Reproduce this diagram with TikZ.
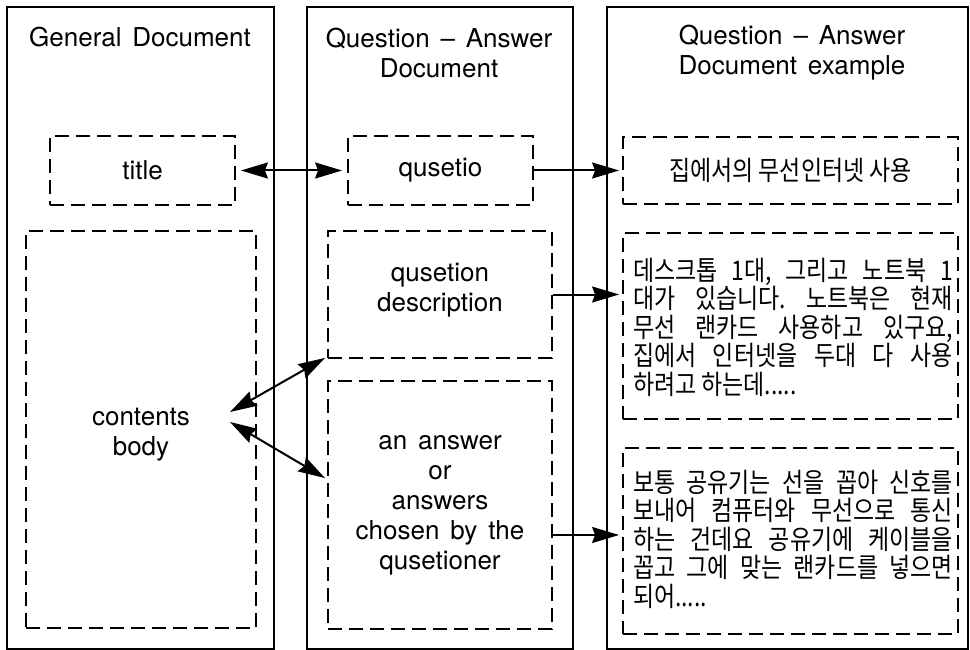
\documentclass[tikz,border=0pt]{standalone}
\usepackage{fontspec}
\setmainfont{TeX Gyre Heros}[WordSpace=1.5]
\newfontfamily\kr{Noto Sans CJK KR}[FakeStretch=0.85]
\usetikzlibrary{arrows.meta,calc}
\frenchspacing
\begin{document}
\begin{tikzpicture}[x=1pt,y=-1pt,
  outer/.style={draw, line width=2pt, inner sep=0pt},
  dbox/.style={draw, dash pattern=on 14pt off 7pt, line width=1.8pt, inner sep=0pt},
  lbl/.style={font=\fontsize{26}{30}\selectfont, align=center},
  krt/.style={font=\kr\fontsize{27}{28.5}\selectfont\frenchspacing},
  arr/.style={line width=2pt, -{Stealth[length=27pt,width=16pt,inset=3pt]}},
  darr/.style={line width=2pt, {Stealth[length=27pt,width=16pt,inset=3pt]}-{Stealth[length=27pt,width=16pt,inset=3pt]}}
]
\useasboundingbox (0,0) rectangle (970,650);
% columns
\node[outer, minimum width=267, minimum height=642, anchor=north west] (col1) at (6,6) {};
\node[outer, minimum width=266, minimum height=642, anchor=north west] (col2) at (306,6) {};
\node[outer, minimum width=361, minimum height=642, anchor=north west] (col3) at (606,6) {};
% headings
\node[lbl] (h1) at (140,37) {General Document};
\node[lbl] (h2) at (439,53) {Question – Answer\\Document};
\node[lbl] (h3) at (792,53) {Question – Answer\\Document example};
% dashed boxes
\node[dbox, lbl, minimum width=185, minimum height=69] (tbox) at (142.5,170.5) {title};
\node[dbox, minimum width=230, minimum height=397] (cbody) at (141,429.5) {};
\node[lbl] (cbt) at (141,435) {contents\\body};
\node[dbox, lbl, minimum width=185, minimum height=69] (qus) at (440.5,170.5) {qusetio};
\node[dbox, minimum width=224, minimum height=127] (qdesc) at (440,294.5) {};
\node[lbl] (qdt) at (440,290) {qusetion\\description};
\node[dbox, lbl, minimum width=224, minimum height=248] (ans) at (440,505) {an answer\\or\\answers\\chosen by the\\qusetioner};
\node[dbox, krt, minimum width=335, minimum height=67] (krtitle) at (790.5,170.5) {집에서의 무선인터넷 사용};
\node[dbox, minimum width=335, minimum height=186] (krdesc) at (790.5,326) {};
\node[krt, align=left] (krdt) at (793,327) {\makebox[320pt][s]{데스크톱 1대, 그리고 노트북 1}\\
\makebox[320pt][s]{대가 있습니다. 노트북은 현재}\\
\makebox[320pt][s]{무선 랜카드 사용하고 있구요,}\\
\makebox[320pt][s]{집에서 인터넷을 두대 다 사용}\\
하려고 하는데.....};
\node[dbox, minimum width=335, minimum height=186] (krans) at (790.5,541) {};
\node[krt, align=left] (krat) at (793,539) {\makebox[320pt][s]{보통 공유기는 선을 꼽아 신호를}\\
\makebox[320pt][s]{보내어 컴퓨터와 무선으로 통신}\\
\makebox[320pt][s]{하는 건데요 공유기에 케이블을}\\
\makebox[320pt][s]{꼽고 그에 맞는 랜카드를 넣으면}\\
되어.....};
% connectors
\draw[darr, shorten <=5pt, shorten >=5pt] (tbox.east) -- (qus.west);
\draw[arr, shorten >=3pt] (qus.east) -- (krtitle.west);
\draw[arr, shorten >=3pt] (qdesc.east) -- (qdesc.east -| krdesc.west);
\coordinate (a1) at ($(ans.east)+(0,30)$);
\draw[arr, shorten >=3pt] (a1) -- (a1 -| krans.west);
\coordinate (c1) at (230,412);
\coordinate (c2) at (230,422);
\draw[darr] (c1) -- ($(qdesc.south west)+(-2,-1)$);
\draw[darr] (c2) -- ($(ans.north west)+(-2,98)$);
\end{tikzpicture}
\end{document}
